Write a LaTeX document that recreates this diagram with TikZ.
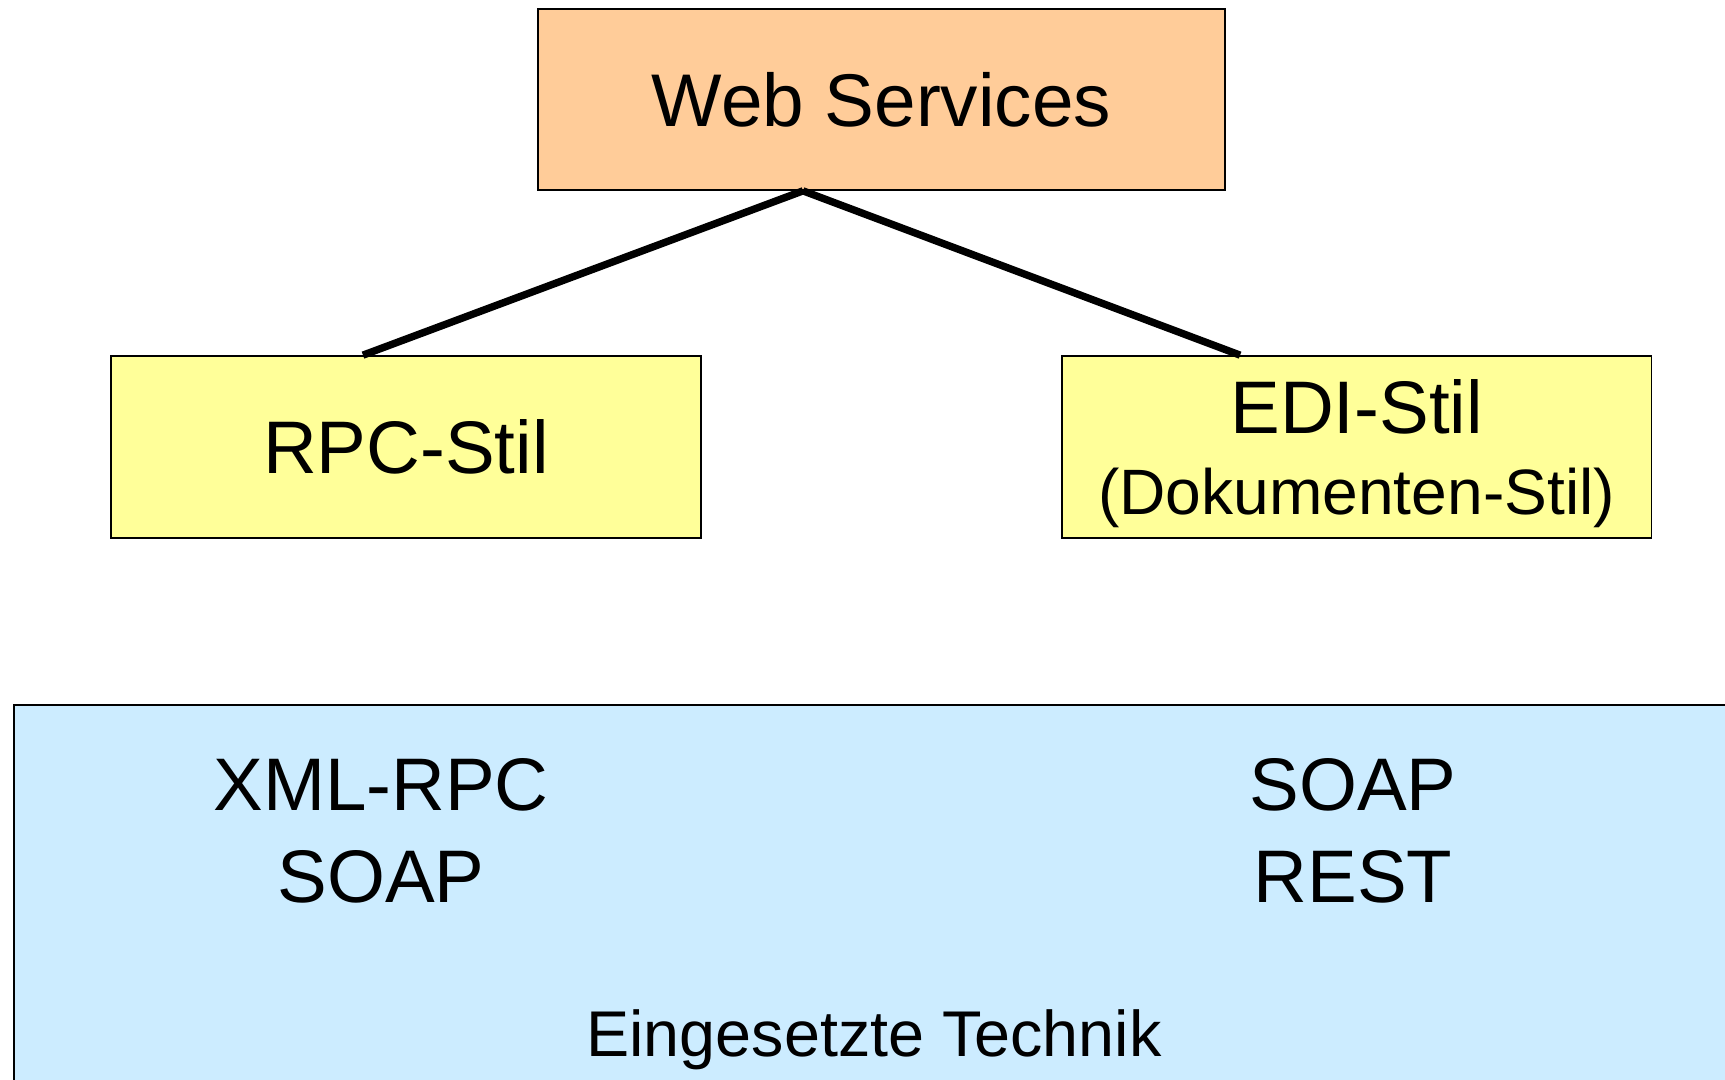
\documentclass[tikz,border=0pt]{standalone}
\usepackage{fontspec}
\setmainfont{Liberation Sans}
\usetikzlibrary{positioning}
\definecolor{peach}{HTML}{FFCC99}
\definecolor{paleyellow}{HTML}{FFFF99}
\definecolor{paleblue}{HTML}{CCECFF}
\tikzset{
  % Common styles for the diagram
  box/.style={draw, rectangle, line width=1pt, inner sep=0pt},
  link/.style={draw, line width=4.2pt}
}

\begin{document}
\begin{tikzpicture}[x=0.02cm, y=-0.02cm]
    % Define styles
    \tikzstyle{rootbox} = [box, fill=peach, minimum width=13.74cm, minimum height=3.62cm, font=\fontsize{42.5}{46}\selectfont]
    \tikzstyle{stilbox} = [box, fill=paleyellow, minimum width=11.8cm, minimum height=3.64cm, font=\fontsize{42.4}{46}\selectfont]
    \tikzstyle{techbox} = [box, fill=paleblue, minimum width=36cm, minimum height=8cm]
    \tikzstyle{tech} = [align=center, inner sep=0pt, font=\fontsize{42.4}{52}\selectfont]

    \useasboundingbox (0,0) rectangle (1725,1079);
    \clip (0,0) rectangle (1725,1079);

    % Place nodes
    \node [rootbox] (web) at (881.5,99.5) {Web Services};
    \node [stilbox] (rpc) at (406,447) {RPC-Stil};
    \node [stilbox, right=7.18cm of rpc] (edi) {};
    \node [align=center, inner sep=0pt, font=\fontsize{42.4}{46}\selectfont] (editext)
        at ([yshift=-0.14cm]edi.center) {EDI-Stil\\{\fontsize{36.5}{46}\selectfont (Dokumenten-Stil)}};
    \node [techbox, anchor=north west] (technik) at (13,704) {};
    \node [tech] (rpctech) at (381,831) {XML-RPC\\SOAP};
    \node [tech] (editech) at (1353,831) {SOAP\\REST};
    \node [inner sep=0pt, font=\fontsize{36.8}{40}\selectfont] (label) at (874,1040) {Eingesetzte Technik};

    % Draw edges
    \path [link] ([xshift=-1.57cm]web.south) -- ([xshift=-0.86cm]rpc.north);
    \path [link] ([xshift=-1.57cm]web.south) -- ([xshift=-2.33cm]edi.north);
\end{tikzpicture}
\end{document}
